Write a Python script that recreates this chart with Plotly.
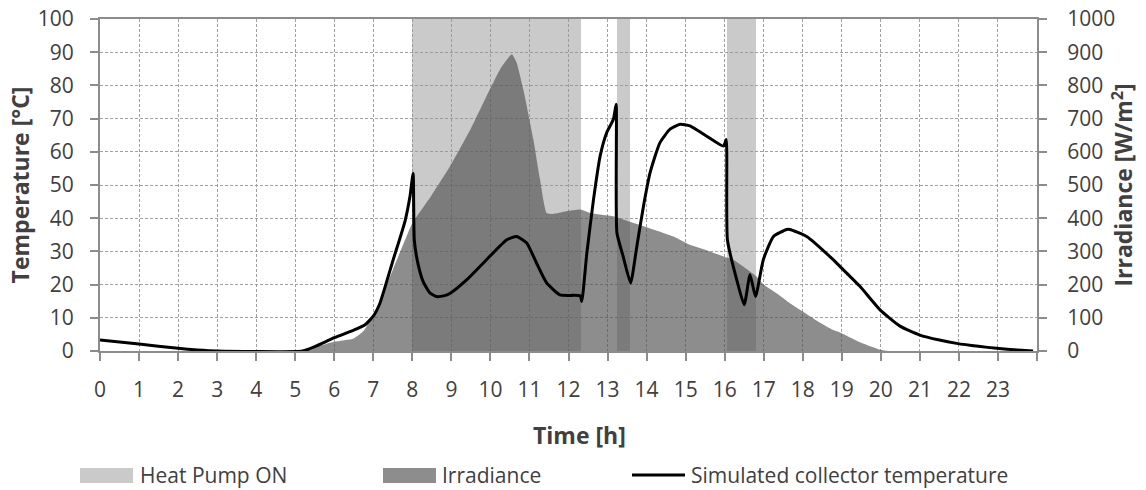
import plotly.graph_objects as go

# ---------------- data ----------------
hour_ticks = list(range(25))
hour_labels = [str(h) for h in range(24)] + [""]

temp_ticks = list(range(0, 101, 10))
irr_ticks = list(range(0, 1001, 100))

# heat pump ON periods (h)
hp_start = [8.0, 13.23, 16.05]
hp_end = [12.33, 13.58, 16.79]
hp_level = 1000  # full height on the irradiance axis

# irradiance (W/m2)
irr_t = [0, 4.95, 5.5, 6.0, 6.5, 6.75, 7.0, 7.17, 7.5, 7.85, 8.0, 8.5, 8.97, 9.5, 9.99, 10.25,
         10.5, 10.55, 10.67, 10.84, 11.1, 11.27, 11.44, 11.6, 11.95, 12.3, 12.55, 13.15, 13.4,
         13.92, 14.69, 15.11, 15.5, 15.97, 16.22, 16.82, 17.0, 17.4, 17.67, 17.93, 18.4, 18.78,
         18.95, 19.5, 19.98, 20.2, 24]
irr_w = [0, 0, 12, 28, 38, 60, 110, 150, 245, 345, 385, 470, 557, 670, 789, 849,
         889, 894, 869, 789, 637, 517, 416, 413, 421, 426, 416, 406, 396,
         376, 345, 320, 305, 285, 275, 224, 200, 168, 144, 124, 88, 63,
         56, 25, 4, 0, 0]

# simulated collector temperature (degC)
temp_t = [0, 1, 2, 2.5, 3, 5.2, 5.5, 6.0, 6.5, 6.79, 7.0, 7.17, 7.51, 7.81, 7.94, 8.02,
          8.05, 8.15, 8.28, 8.45, 8.62, 8.8, 8.97, 9.39, 9.9, 10.42, 10.67, 10.93, 11.18,
          11.44, 11.78, 12.3, 12.34, 12.47, 12.64, 12.81, 12.98, 13.15, 13.22, 13.24, 13.4,
          13.59, 13.75, 13.92, 14.09, 14.34, 14.6, 14.86, 15.11, 15.54, 15.97, 16.04, 16.07,
          16.31, 16.5, 16.65, 16.79, 16.99, 17.25, 17.59, 17.67, 18.1, 18.78, 18.95, 19.47,
          19.98, 20.49, 21.0, 21.5, 21.94, 22.5, 22.97, 23.5, 23.9]
temp_c = [3.3, 2.1, 0.8, 0.3, 0, 0, 1.3, 4.0, 6.3, 7.9, 10.5, 14.4, 27.5, 39, 46.6, 53.5,
          33.5, 26, 20.8, 17.5, 16.4, 16.6, 17.4, 21.4, 27.5, 33.5, 34.5, 32.5, 26.5,
          20.5, 16.9, 16.6, 14.9, 29.5, 45.6, 58.7, 65.8, 69.8, 74.3, 35.6, 28.5,
          20.5, 31.5, 43.6, 53.7, 62.7, 66.8, 68.3, 67.8, 64.7, 61.7, 63.7, 33.5,
          21.4, 13.9, 23, 16.4, 27.5, 34.5, 36.6, 36.6, 34.5, 27.5, 25.5, 19.4,
          12.4, 7.5, 4.8, 3.3, 2.3, 1.4, 0.8, 0.3, 0]

legend_names = ["Heat Pump ON", "Irradiance", "Simulated collector temperature"]
x_title = "Time [h]"

# ---------------- style ----------------
FONT = "Open Sans"
TXT = "#404040"
AXC = "#8c8c8c"
GRID = "#a0a0a0"
BAND = "rgba(150,150,150,0.5)"
IRR = "rgba(80,80,80,0.65)"

W, H = 1146, 490
ML, MR, MT, MB = 100, 109, 19, 139
PW, PH = W - ML - MR, H - MT - MB


def px(x):
    return (x - ML) / PW


def py(y):
    return (H - MB - y) / PH


fig = go.Figure()

fig.add_trace(go.Bar(
    x=[(s + e) / 2 for s, e in zip(hp_start, hp_end)],
    y=[hp_level] * len(hp_start),
    width=[e - s for s, e in zip(hp_start, hp_end)],
    marker=dict(color=BAND, line=dict(width=0)),
    name=legend_names[0], yaxis="y", showlegend=False,
))

fig.add_trace(go.Scatter(
    x=irr_t, y=irr_w, mode="lines", fill="tozeroy",
    line=dict(width=0, color=IRR, shape="spline", smoothing=0.5), fillcolor=IRR,
    name=legend_names[1], yaxis="y", showlegend=False,
))

fig.add_trace(go.Scatter(
    x=temp_t, y=temp_c, mode="lines",
    line=dict(color="black", width=3, shape="spline", smoothing=0.5),
    name=legend_names[2], yaxis="y2", showlegend=False,
))

tickfont = dict(family=FONT, size=21, color=TXT)
titlefont = dict(family=FONT, size=23, color=TXT, weight="bold")

fig.update_layout(
    width=W, height=H,
    margin=dict(l=ML, r=MR, t=MT, b=MB, autoexpand=False),
    plot_bgcolor="white", paper_bgcolor="white",
    font=dict(family=FONT, color=TXT),
    bargap=0,
    xaxis=dict(
        range=[0, 24], tickvals=hour_ticks, ticktext=hour_labels,
        showgrid=True, gridcolor=GRID, griddash="3px,2px", gridwidth=1,
        showline=True, linecolor=AXC, linewidth=2, mirror=True,
        ticks="outside", ticklen=8, tickcolor=AXC, tickwidth=2,
        tickfont=tickfont, ticklabelstandoff=11,
        zeroline=False, automargin=False,
    ),
    yaxis=dict(
        range=[0, 1000], tickvals=irr_ticks, side="right",
        showgrid=True, gridcolor=GRID, griddash="3px,2px", gridwidth=1,
        showline=True, linecolor=AXC, linewidth=2,
        ticks="outside", ticklen=8, tickcolor=AXC, tickwidth=2,
        tickfont=tickfont, ticklabelstandoff=16,
        title=dict(text="Irradiance [W/m<sup>2</sup>]", font=titlefont, standoff=2),
        zeroline=False, automargin=False,
    ),
    yaxis2=dict(
        range=[0, 100], tickvals=temp_ticks, side="left", overlaying="y",
        showgrid=False,
        showline=True, linecolor=AXC, linewidth=2,
        ticks="outside", ticklen=8, tickcolor=AXC, tickwidth=2,
        tickfont=tickfont, ticklabelstandoff=12,
        title=dict(text="Temperature [°C]", font=titlefont, standoff=2),
        zeroline=False, automargin=False,
    ),
)

# manual legend and x-axis title
shapes = [
    dict(type="rect", xref="paper", yref="paper", x0=px(80), x1=px(133), y0=py(483), y1=py(468),
         fillcolor="rgb(202,202,202)", line=dict(width=0)),
    dict(type="rect", xref="paper", yref="paper", x0=px(383), x1=px(436), y0=py(483), y1=py(468),
         fillcolor="rgb(141,141,141)", line=dict(width=0)),
    dict(type="line", xref="paper", yref="paper", x0=px(632), x1=px(685), y0=py(475), y1=py(475),
         line=dict(color="black", width=3)),
]
annotations = [
    dict(text=legend_names[0], x=px(138), y=py(475), xanchor="left",
         font=dict(family=FONT, size=21, color=TXT)),
    dict(text=legend_names[1], x=px(440), y=py(475), xanchor="left",
         font=dict(family=FONT, size=21, color=TXT)),
    dict(text=legend_names[2], x=px(689), y=py(475), xanchor="left",
         font=dict(family=FONT, size=21, color=TXT)),
    dict(text=x_title, x=px(579), y=py(435), xanchor="center", font=titlefont),
]
for a in annotations:
    a.update(xref="paper", yref="paper", yanchor="middle", showarrow=False)
fig.update_layout(shapes=shapes, annotations=annotations)

fig.write_html("out.html", config={"displayModeBar": False},
               post_script="document.body.style.margin='0';document.body.style.padding='0';")
